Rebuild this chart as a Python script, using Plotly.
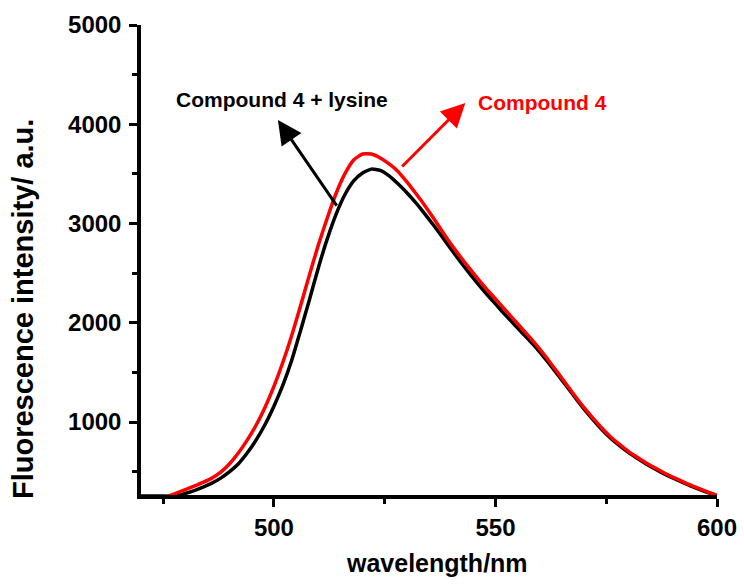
import plotly.graph_objects as go

# Compound 4 (red)
wl_red = [476, 478, 480, 482, 484, 486, 488, 490, 492, 494, 496, 498, 500, 502, 504, 506, 508, 510,
          512, 514, 516, 518, 520, 522, 524, 526, 528, 530, 532, 534, 536, 538, 540, 542, 544, 546,
          548, 550, 552, 554, 556, 558, 560, 562, 564, 566, 568, 570, 572, 574, 576, 578, 580, 582,
          584, 586, 588, 590, 592, 594, 596, 598, 600]
int_red = [250, 285, 320, 355, 392, 435, 495, 580, 690, 820, 970, 1150, 1360, 1600, 1870, 2170, 2480, 2780,
           3050, 3300, 3500, 3640, 3700, 3700, 3660, 3600, 3525, 3420, 3305, 3185, 3055, 2920, 2790, 2670, 2555, 2445,
           2340, 2240, 2140, 2040, 1940, 1840, 1735, 1620, 1500, 1380, 1260, 1145, 1040, 940, 850, 775, 705, 645,
           588, 538, 490, 445, 405, 365, 330, 295, 262]

# Compound 4 + lysine (black)
wl_blk = [470, 474, 478, 480, 482, 484, 486, 488, 490, 492, 494, 496, 498, 500, 502, 504, 506, 508, 510,
          512, 514, 516, 518, 520, 522, 524, 526, 528, 530, 532, 534, 536, 538, 540, 542, 544, 546,
          548, 550, 552, 554, 556, 558, 560, 562, 564, 566, 568, 570, 572, 574, 576, 578, 580, 582,
          584, 586, 588, 590, 592, 594, 596, 598, 600]
int_blk = [255, 255, 255, 280, 310, 345, 385, 435, 500, 580, 690, 820, 975, 1160, 1370, 1620, 1920, 2230, 2550,
           2840, 3090, 3290, 3430, 3510, 3548, 3535, 3480, 3400, 3310, 3210, 3100, 2985, 2865, 2740, 2620, 2505, 2395,
           2290, 2190, 2090, 1995, 1900, 1805, 1705, 1595, 1480, 1365, 1245, 1130, 1025, 925, 838, 763, 695, 635,
           578, 528, 480, 437, 397, 358, 322, 288, 258]

x_ticks = [500, 550, 600]
y_ticks = [1000, 2000, 3000, 4000, 5000]

label_blk = "Compound 4 + lysine"
label_red = "Compound 4"
x_title = "wavelength/nm"
y_title = "Fluorescence intensity/ a.u."

fig = go.Figure()
fig.add_trace(go.Scatter(x=wl_blk, y=int_blk, mode="lines", name=label_blk,
                         line=dict(color="black", width=3.5, shape="spline", smoothing=0.5)))
fig.add_trace(go.Scatter(x=wl_red, y=int_red, mode="lines", name=label_red,
                         line=dict(color="#ff0000", width=3.5, shape="spline", smoothing=0.5)))

font_family = "Liberation Sans, Arial, sans-serif"

fig.update_layout(
    width=744, height=584,
    margin=dict(l=141, r=27, t=25, b=89),
    paper_bgcolor="white", plot_bgcolor="white",
    showlegend=False,
    font=dict(family=font_family, color="black"),
    xaxis=dict(
        range=[470, 600], tickvals=x_ticks, ticktext=[str(v) for v in x_ticks],
        showgrid=False, zeroline=False, showline=True, linecolor="black", linewidth=3.5,
        ticks="outside", ticklen=8, tickwidth=3, tickcolor="black",
        minor=dict(ticks="outside", ticklen=5, tickwidth=3, tickcolor="black", tick0=475, dtick=25),
        tickfont=dict(size=24, family=font_family, weight="bold"),
        automargin=False,
    ),
    yaxis=dict(
        range=[265, 5000], tickvals=y_ticks, ticktext=[str(v) for v in y_ticks],
        showgrid=False, zeroline=False, showline=True, linecolor="black", linewidth=3.5,
        ticks="outside", ticklen=8, tickwidth=3, tickcolor="black",
        minor=dict(ticks="outside", ticklen=5, tickwidth=3, tickcolor="black", tick0=500, dtick=500),
        tickfont=dict(size=24, family=font_family, weight="bold"),
        ticklabelstandoff=3,
        automargin=False,
    ),
)

# axis titles
fig.add_annotation(x=(437 - 141) / 576, y=(495 - 563) / 470, xref="paper", yref="paper",
                   xanchor="center", yanchor="middle",
                   text="<b>" + x_title + "</b>", showarrow=False,
                   font=dict(size=25, color="black", family=font_family))
fig.add_annotation(x=(23 - 141) / 576, y=(495 - 309) / 470, xref="paper", yref="paper",
                   xanchor="center", yanchor="middle",
                   text="<b>" + y_title + "</b>", showarrow=False, textangle=-90,
                   font=dict(size=29, color="black", family=font_family))

# arrows
fig.add_annotation(x=500.9, y=4043, ax=514.4, ay=3166, xref="x", yref="y", axref="x", ayref="y",
                   showarrow=True, arrowhead=2, arrowsize=1.6, arrowwidth=3, arrowcolor="black", text="")
fig.add_annotation(x=543.2, y=4214, ax=528.6, ay=3559, xref="x", yref="y", axref="x", ayref="y",
                   showarrow=True, arrowhead=2, arrowsize=1.6, arrowwidth=3, arrowcolor="#ff0000", text="")
# labels
fig.add_annotation(x=501.8, y=4254, xref="x", yref="y", text="<b>" + label_blk + "</b>", showarrow=False,
                   font=dict(size=21, color="black", family=font_family))
fig.add_annotation(x=560.6, y=4224, xref="x", yref="y", text="<b>" + label_red + "</b>", showarrow=False,
                   font=dict(size=21, color="#ff0000", family=font_family))

fig.write_html("out.html")
